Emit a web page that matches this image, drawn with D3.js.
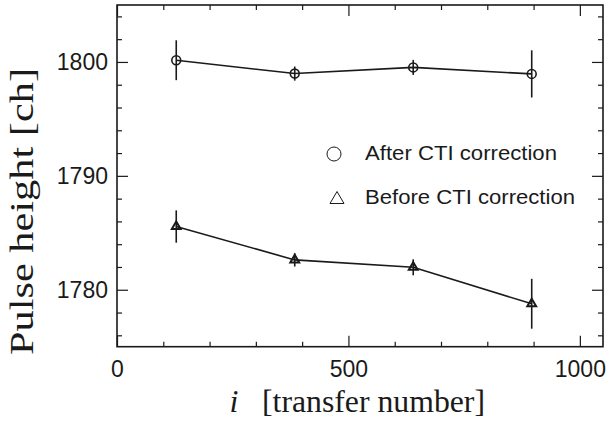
<!DOCTYPE html>
<html>
<head>
<meta charset="utf-8">
<script src="https://cdn.jsdelivr.net/npm/d3@7"></script>
<style>
  html, body { margin: 0; padding: 0; background: #fff; }
  svg { display: block; }
</style>
</head>
<body>
<svg id="chart" width="609" height="425"></svg>
<script>
// ---- data ----
const transfers = [128, 384, 640, 896];
const afterValues = [1800.15, 1798.98, 1799.52, 1798.95];
const afterErrors = [1.75, 0.62, 0.66, 2.07];
const beforeValues = [1785.55, 1782.62, 1781.97, 1778.77];
const beforeErrors = [1.42, 0.58, 0.70, 2.19];
const xTickLabels = [0, 500, 1000];
const yTickLabels = [1780, 1790, 1800];
const legendLabels = ["After CTI correction", "Before CTI correction"];

(function () {
const svg = d3.select("#chart");
const ink = "#1a1a1a";
const mLeft = 117, mRight = 603, mTop = 5, mBottom = 346.7;

const x = d3.scaleLinear().domain([0, 1050]).range([mLeft, mRight]);
const y = d3.scaleLinear().domain([1775, 1805]).range([mBottom, mTop]);

const xMinor = d3.range(0, 1051, 100).filter(v => v % 500 !== 0);
const yMinor = d3.range(1776, 1805, 2).filter(v => v % 10 !== 0);

function styleAxis(g) {
  g.select(".domain").remove();
  g.selectAll("line").attr("stroke", ink).attr("stroke-width", 1.2);
  g.selectAll("text").attr("fill", ink)
    .style("font-family", "'Liberation Sans', Arial, sans-serif")
    .style("font-size", "23px");
}

// bottom axis (inward ticks)
svg.append("g").attr("transform", `translate(0,${mBottom})`)
  .call(d3.axisTop(x).tickValues(xTickLabels).tickSize(11).tickFormat(() => ""))
  .call(styleAxis);
svg.append("g").attr("transform", `translate(0,${mBottom})`)
  .call(d3.axisTop(x).tickValues(xMinor).tickSize(5).tickFormat(() => ""))
  .call(styleAxis);
svg.append("g").attr("transform", `translate(0,${mBottom})`)
  .call(d3.axisBottom(x).tickValues(xTickLabels).tickSize(0).tickPadding(14).tickFormat(d3.format("d")))
  .call(styleAxis);
// top axis
svg.append("g").attr("transform", `translate(0,${mTop})`)
  .call(d3.axisBottom(x).tickValues(xTickLabels).tickSize(11).tickFormat(() => ""))
  .call(styleAxis);
svg.append("g").attr("transform", `translate(0,${mTop})`)
  .call(d3.axisBottom(x).tickValues(xMinor).tickSize(5).tickFormat(() => ""))
  .call(styleAxis);
// left axis
svg.append("g").attr("transform", `translate(${mLeft},0)`)
  .call(d3.axisRight(y).tickValues(yTickLabels).tickSize(11).tickFormat(() => ""))
  .call(styleAxis);
svg.append("g").attr("transform", `translate(${mLeft},0)`)
  .call(d3.axisRight(y).tickValues(yMinor).tickSize(5).tickFormat(() => ""))
  .call(styleAxis);
svg.append("g").attr("transform", `translate(${mLeft},0)`)
  .call(d3.axisLeft(y).tickValues(yTickLabels).tickSize(0).tickPadding(9).tickFormat(d3.format("d")))
  .call(styleAxis);
// right axis
svg.append("g").attr("transform", `translate(${mRight},0)`)
  .call(d3.axisLeft(y).tickValues(yTickLabels).tickSize(11).tickFormat(() => ""))
  .call(styleAxis);
svg.append("g").attr("transform", `translate(${mRight},0)`)
  .call(d3.axisLeft(y).tickValues(yMinor).tickSize(5).tickFormat(() => ""))
  .call(styleAxis);

// frame
svg.append("rect")
  .attr("x", mLeft).attr("y", mTop)
  .attr("width", mRight - mLeft).attr("height", mBottom - mTop)
  .attr("fill", "none").attr("stroke", ink).attr("stroke-width", 1.6);

// series
const series = [
  { values: afterValues, errors: afterErrors, symbol: d3.symbolCircle, size: 62, sw: 1.6 },
  { values: beforeValues, errors: beforeErrors, symbol: d3.symbolTriangle, size: 34, sw: 2 }
];
const line = d3.line().x(d => x(d[0])).y(d => y(d[1]));

series.forEach(s => {
  const pts = transfers.map((t, i) => [t, s.values[i], s.errors[i]]);
  svg.append("path").datum(pts)
    .attr("d", line).attr("fill", "none").attr("stroke", ink).attr("stroke-width", 1.6);
  svg.append("g").selectAll("line").data(pts).join("line")
    .attr("x1", d => x(d[0])).attr("x2", d => x(d[0]))
    .attr("y1", d => y(d[1] + d[2])).attr("y2", d => y(d[1] - d[2]))
    .attr("stroke", ink).attr("stroke-width", 1.6);
  svg.append("g").selectAll("path").data(pts).join("path")
    .attr("transform", d => `translate(${x(d[0])},${y(d[1])})`)
    .attr("d", d3.symbol().type(s.symbol).size(s.size))
    .attr("fill", "none")
    .attr("stroke", ink).attr("stroke-width", s.sw);
});

// legend
const lg = svg.append("g");
lg.append("circle").attr("cx", 334).attr("cy", 154).attr("r", 7)
  .attr("fill", "none").attr("stroke", ink).attr("stroke-width", 1);
lg.append("path").attr("transform", "translate(337,198)")
  .attr("d", "M0,-6.5 L7,5.5 L-7,5.5 Z")
  .attr("fill", "none").attr("stroke", ink).attr("stroke-width", 1);
const legendWidths = [192, 210];
lg.selectAll("text").data(legendLabels).join("text")
  .attr("x", 365).attr("y", (d, i) => 160 + i * 44)
  .attr("fill", ink)
  .attr("textLength", (d, i) => legendWidths[i])
  .attr("lengthAdjust", "spacingAndGlyphs")
  .style("font-family", "'Liberation Sans', Arial, sans-serif")
  .style("font-size", "20px")
  .text(d => d);

// axis titles
svg.append("text")
  .attr("x", 234).attr("y", 412).attr("text-anchor", "middle")
  .attr("fill", ink)
  .style("font-family", "'Liberation Serif', 'Times New Roman', serif")
  .style("font-style", "italic")
  .style("font-size", "32px")
  .text("i");
svg.append("text")
  .attr("x", 262).attr("y", 412)
  .attr("textLength", 223).attr("lengthAdjust", "spacingAndGlyphs")
  .attr("fill", ink)
  .style("font-family", "'Liberation Serif', 'Times New Roman', serif")
  .style("font-size", "32px")
  .text("[transfer number]");

svg.append("text")
  .attr("transform", "translate(33,355) rotate(-90)")
  .attr("textLength", 287).attr("lengthAdjust", "spacingAndGlyphs")
  .attr("fill", ink)
  .style("font-family", "'Liberation Serif', 'Times New Roman', serif")
  .style("font-size", "34px")
  .text("Pulse height [ch]");
})();
</script>
</body>
</html>
